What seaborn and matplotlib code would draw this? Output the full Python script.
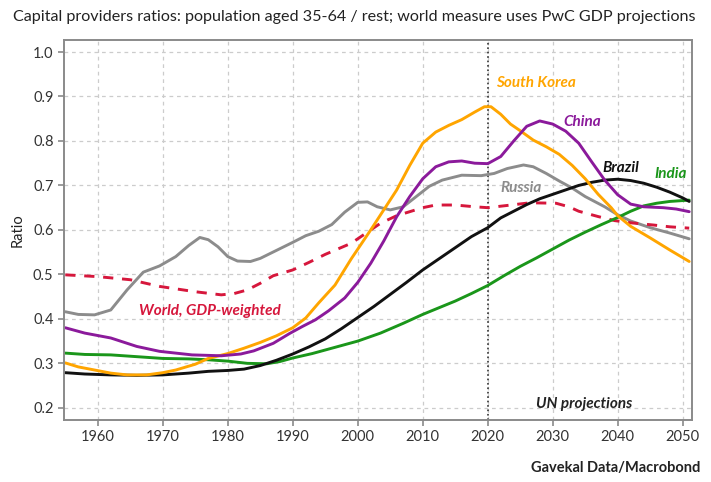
import pandas as pd
import matplotlib.pyplot as plt
import seaborn as sns

# values (year, ratio)
russia_years = [1955, 1957, 1959.5, 1962, 1964.5, 1967, 1969.5, 1972, 1974, 1975.7, 1977, 1978.5, 1980, 1981.5,
                1983.5, 1985, 1987.5, 1990, 1992, 1994, 1996, 1998, 2000, 2001.5, 2003, 2005, 2007, 2009, 2011,
                2013, 2016, 2019, 2021, 2023, 2025.5, 2027, 2029, 2031, 2033, 2035, 2038, 2040, 2042, 2045, 2048, 2051]
russia_vals = [0.416, 0.41, 0.409, 0.42, 0.465, 0.505, 0.519, 0.54, 0.565, 0.583, 0.578, 0.562, 0.54, 0.53,
               0.529, 0.536, 0.554, 0.572, 0.587, 0.597, 0.612, 0.64, 0.662, 0.663, 0.652, 0.645, 0.652, 0.675, 0.698,
               0.712, 0.723, 0.722, 0.727, 0.738, 0.746, 0.742, 0.727, 0.71, 0.694, 0.675, 0.652, 0.634, 0.62, 0.605, 0.593, 0.58]

china_years = [1955, 1958, 1962, 1966, 1969.5, 1974.5, 1979, 1982, 1984, 1987, 1989.5, 1991.5, 1993.5, 1995.5, 1998,
               2000, 2002, 2004, 2006, 2008, 2010, 2012, 2014, 2016, 2018, 2020, 2022, 2024, 2026, 2028, 2030, 2032,
               2034, 2036, 2038, 2040, 2042, 2044, 2047, 2049, 2051]
china_vals = [0.38, 0.368, 0.357, 0.338, 0.327, 0.319, 0.317, 0.321, 0.328, 0.345, 0.367, 0.383, 0.398, 0.418, 0.447,
              0.482, 0.525, 0.575, 0.63, 0.675, 0.715, 0.742, 0.753, 0.755, 0.75, 0.749, 0.765, 0.8, 0.833, 0.845, 0.838, 0.822,
              0.795, 0.753, 0.712, 0.679, 0.658, 0.652, 0.65, 0.647, 0.641]

korea_years = [1955, 1957, 1959.5, 1962, 1964.5, 1967.5, 1970, 1972, 1975, 1977, 1980, 1982.5, 1985, 1987.5, 1990,
               1992, 1994, 1996.5, 1999, 2002, 2004, 2006, 2008, 2010, 2012, 2014, 2016, 2018, 2019.5, 2020.5, 2022,
               2023.5, 2025, 2027, 2029, 2031, 2033, 2035, 2037, 2039, 2040, 2042, 2045, 2048, 2051]
korea_vals = [0.301, 0.292, 0.285, 0.278, 0.274, 0.274, 0.279, 0.285, 0.298, 0.311, 0.322, 0.334, 0.347, 0.362, 0.38,
              0.402, 0.436, 0.476, 0.535, 0.6, 0.645, 0.69, 0.745, 0.795, 0.82, 0.835, 0.848, 0.865, 0.877, 0.877, 0.86,
              0.838, 0.823, 0.802, 0.787, 0.77, 0.745, 0.715, 0.68, 0.65, 0.632, 0.608, 0.582, 0.555, 0.529]

brazil_years = [1955, 1958, 1962, 1966, 1970, 1974, 1977, 1980, 1982.5, 1985, 1987.5, 1990, 1992.5, 1995, 1997.5,
                2000, 2002.5, 2005, 2007.5, 2010, 2012.5, 2015, 2017.5, 2020, 2022, 2024, 2026, 2028, 2030, 2032,
                2034, 2036, 2038, 2040, 2042, 2044, 2046, 2048, 2050, 2051]
brazil_vals = [0.279, 0.276, 0.274, 0.273, 0.274, 0.278, 0.282, 0.284, 0.287, 0.295, 0.307, 0.321, 0.337, 0.355, 0.378,
               0.403, 0.428, 0.455, 0.482, 0.51, 0.535, 0.56, 0.585, 0.605, 0.627, 0.642, 0.657, 0.67, 0.68, 0.69,
               0.7, 0.707, 0.712, 0.714, 0.711, 0.705, 0.696, 0.685, 0.672, 0.664]

india_years = [1955, 1958, 1962, 1966, 1970, 1974, 1977, 1980, 1983, 1986, 1988, 1990, 1993, 1996.5, 2000, 2003.5,
               2007, 2010, 2012.5, 2015, 2017.5, 2020, 2022.5, 2025, 2027.5, 2030, 2032.5, 2035, 2037.5, 2040,
               2042, 2044, 2046, 2048, 2051]
india_vals = [0.323, 0.32, 0.319, 0.315, 0.311, 0.31, 0.308, 0.305, 0.3, 0.299, 0.304, 0.312, 0.322, 0.336, 0.35, 0.368,
              0.39, 0.41, 0.425, 0.44, 0.457, 0.475, 0.497, 0.518, 0.537, 0.557, 0.577, 0.595, 0.612, 0.628,
              0.642, 0.654, 0.66, 0.664, 0.667]

world_years = [1955, 1960, 1965, 1969.5, 1975, 1979, 1981, 1983, 1985, 1987, 1990, 1992.5, 1995, 1999, 2001, 2003.5,
               2006, 2008, 2010, 2012, 2015, 2018, 2020, 2023, 2026.5, 2030.5, 2032.5, 2034, 2037, 2039.5, 2042,
               2045.5, 2048, 2051]
world_vals = [0.499, 0.495, 0.488, 0.473, 0.461, 0.454, 0.457, 0.465, 0.48, 0.497, 0.51, 0.527, 0.545, 0.57, 0.59, 0.615,
              0.632, 0.641, 0.65, 0.656, 0.656, 0.652, 0.65, 0.655, 0.661, 0.66, 0.652, 0.642, 0.63, 0.621, 0.616,
              0.611, 0.607, 0.604]

sns.set_style("ticks")
plt.rcParams['font.family'] = ['Lato', 'DejaVu Sans']

fig = plt.figure(figsize=(7.11, 4.82), dpi=100)
ax = fig.add_axes([0.09, 0.129, 0.883, 0.788])

series = [
    (russia_years, russia_vals, '#8c8c8c', '-'),
    (world_years, world_vals, '#d6173c', (0, (3.5, 3))),
    (india_years, india_vals, '#1a961a', '-'),
    (brazil_years, brazil_vals, '#111111', '-'),
    (korea_years, korea_vals, '#ffa500', '-'),
    (china_years, china_vals, '#8b1a9b', '-'),
]
for yrs, vals, col, ls in series:
    df = pd.DataFrame({'year': yrs, 'ratio': vals})
    sns.lineplot(data=df, x='year', y='ratio', color=col, linewidth=2.1, linestyle=ls, ax=ax)

ax.axvline(2020, color='#333333', linestyle=':', linewidth=1.2, zorder=1)

ax.set_xlim(1954.8, 2051.4)
ax.set_ylim(0.173, 1.027)
ax.set_xticks(range(1960, 2051, 10))
ax.set_yticks([0.2, 0.3, 0.4, 0.5, 0.6, 0.7, 0.8, 0.9, 1.0])
ax.set_yticklabels([f'{v:.1f}' for v in ax.get_yticks()])
ax.grid(True, linestyle=(0, (3, 3)), color='#cccccc', linewidth=0.9)
ax.set_axisbelow(True)
for s in ax.spines.values():
    s.set_color('#8a8a8a')
    s.set_linewidth(1.4)
ax.tick_params(colors='#8a8a8a', labelcolor='#333333', labelsize=10.5, length=4, width=1.2)
ax.set_xlabel('')
ax.set_ylabel('Ratio', fontsize=10.5, color='#222222', labelpad=6)

lab = dict(fontsize=11, fontweight='bold', fontstyle='italic', ha='center', va='center')
ax.text(2027.4, 0.93, 'South Korea', color='#ffa500', **lab)
ax.text(2034.5, 0.843, 'China', color='#8b1a9b', **lab)
ax.text(2040.5, 0.739, 'Brazil', color='#111111', **lab)
ax.text(2048.2, 0.726, 'India', color='#1a961a', **lab)
ax.text(2025.1, 0.694, 'Russia', color='#8c8c8c', **lab)
ax.text(1977.2, 0.418, 'World, GDP-weighted', color='#d6173c', **lab)
ax.text(2034.9, 0.209, 'UN projections', color='#222222', **lab)

fig.text(0.018, 0.965, 'Capital providers ratios: population aged 35-64 / rest; world measure uses PwC GDP projections',
         fontsize=11.6, color='#222222', ha='left', va='center')
fig.text(0.985, 0.03, 'Gavekal Data/Macrobond', fontsize=10.5, fontweight='bold', color='#222222',
         ha='right', va='center')

fig.savefig('out.png', dpi=100)
